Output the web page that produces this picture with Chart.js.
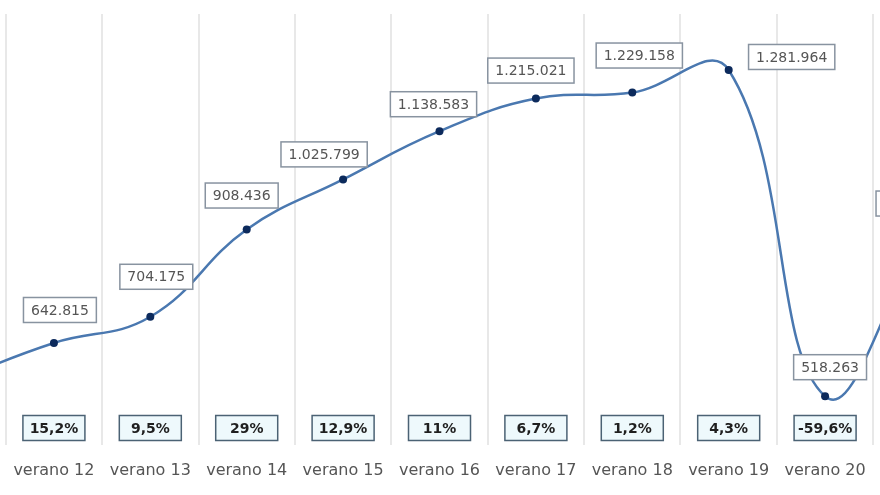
<!DOCTYPE html>
<html>
<head>
<meta charset="utf-8">
<script src="https://cdn.jsdelivr.net/npm/chart.js@4.4.1/dist/chart.umd.min.js"></script>
<style>
    html, body { margin: 0; padding: 0; background: #fff; overflow: hidden; }
    body { width: 880px; height: 495px; position: relative; }
    /* the chart is wider than the window: first and last season are cut off */
    #wrap { position: absolute; left: -99px; top: 0; width: 1077px; height: 495px; }
</style>
</head>
<body>
<div id="wrap"><canvas id="visitChart"></canvas></div>
<script>
// Data (verano 11 and verano 21 are cut off at the edges)
const seasons = ['verano 11', 'verano 12', 'verano 13', 'verano 14', 'verano 15', 'verano 16',
    'verano 17', 'verano 18', 'verano 19', 'verano 20', 'verano 21'];
const visitors = [558000, 642815, 704175, 908436, 1025799, 1138583, 1215021, 1229158, 1281964, 518263, 885000];
const growth = [4.8, 15.2, 9.5, 29, 12.9, 11, 6.7, 1.2, 4.3, -59.6, 70.8];

// where each value box sits relative to its point
const labelNudge = [[-6, -35], [6, -33], [6, -40], [-5, -34], [-19, -25], [-6, -27],
    [-5, -28], [7, -37], [63, -13], [5, -29], [-9, -36]];

const fmtThousands = v => String(v).replace(/\B(?=(\d{3})+(?!\d))/g, '.');
const fmtPct = v => String(v).replace('.', ',') + '%';

function drawBox(ctx, cx, cy, w, h, fill, stroke) {
    ctx.fillStyle = fill;
    ctx.fillRect(cx - w / 2, cy - h / 2, w, h);
    ctx.strokeStyle = stroke;
    ctx.lineWidth = 1.5;
    ctx.strokeRect(cx - w / 2, cy - h / 2, w, h);
}

// Boxes with values above points and growth boxes at the bottom
const boxLabels = {
    id: 'boxLabels',
    afterDatasetsDraw(chart) {
        const ctx = chart.ctx;
        const meta = chart.getDatasetMeta(0);
        const area = chart.chartArea;
        ctx.save();
        ctx.textAlign = 'center';
        ctx.textBaseline = 'middle';

        meta.data.forEach((pt, i) => {
            // growth box
            ctx.font = 'bold 14px "DejaVu Sans"';
            drawBox(ctx, pt.x, area.bottom - 17, 62, 25, '#eef9fc', '#4b6274');
            ctx.fillStyle = '#1f1f1f';
            ctx.fillText(fmtPct(growth[i]), pt.x, area.bottom - 16);

            // value box
            ctx.font = '14px "DejaVu Sans"';
            const txt = fmtThousands(visitors[i]);
            const w = ctx.measureText(txt).width + 15;
            const cx = pt.x + labelNudge[i][0];
            const cy = pt.y + labelNudge[i][1];
            drawBox(ctx, cx, cy, w, 25, '#ffffff', '#8893a0');
            ctx.fillStyle = '#555555';
            ctx.fillText(txt, cx, cy + 1);
        });
        ctx.restore();
    }
};

const visitChart = new Chart(document.getElementById('visitChart'), {
    type: 'line',
    data: {
        labels: seasons,
        datasets: [{
            data: visitors,
            borderColor: '#4a78b0',
            borderWidth: 2.5,
            tension: 0.42,
            pointRadius: 4,
            pointBackgroundColor: '#0c2a5c',
            pointBorderColor: '#0c2a5c',
            pointBorderWidth: 0,
            fill: false
        }]
    },
    options: {
        responsive: true,
        maintainAspectRatio: false,
        animation: false,
        layout: { padding: { top: 14, left: 0, right: 0, bottom: 0 } },
        plugins: {
            legend: { display: false },
            tooltip: { enabled: false }
        },
        scales: {
            x: {
                offset: true,
                border: { display: false },
                grid: { offset: true, color: '#e8e8e8', lineWidth: 2, drawTicks: false },
                ticks: {
                    color: '#555555',
                    padding: 16,
                    maxRotation: 0,
                    autoSkip: false,
                    font: { family: '"DejaVu Sans"', size: 16 }
                },
                afterFit(scale) { scale.height = 50; }
            },
            y: {
                display: false,
                min: 404000,
                max: 1413000
            }
        }
    },
    plugins: [boxLabels]
});
</script>
</body>
</html>
